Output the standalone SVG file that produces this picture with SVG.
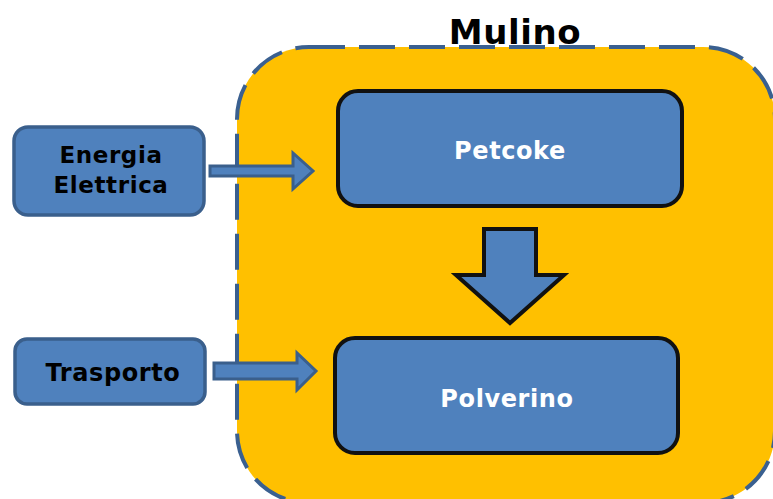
<svg xmlns="http://www.w3.org/2000/svg" width="773" height="499" viewBox="0 0 773 499">
  <style>
    .lbl { font-family: "DejaVu Sans", Verdana, sans-serif; font-weight: bold; text-anchor: middle; letter-spacing: 0.6px; }
    .side { fill: #4F81BD; stroke: #3A5F8C; stroke-width: 3.5; }
    .core { fill: #4F81BD; stroke: #111111; stroke-width: 4; }
    .flow { fill: #4F81BD; stroke: #3A5F8C; stroke-width: 3; }
  </style>
  <rect width="773" height="499" fill="#FFFFFF"/>

  <g id="mulino">
    <rect x="237" y="47" width="538" height="456" rx="72" fill="#FFC000" stroke="#3A6090" stroke-width="4" stroke-dasharray="36 14"/>
    <text class="lbl" x="515" y="44" font-size="34" fill="#000">Mulino</text>
  </g>

  <g id="petcoke">
    <rect class="core" x="338" y="91" width="344" height="115" rx="20"/>
    <text class="lbl" x="510" y="159" font-size="24" fill="#FFF">Petcoke</text>
  </g>

  <g id="polverino">
    <rect class="core" x="335" y="338" width="343" height="115" rx="20"/>
    <text class="lbl" x="507" y="407" font-size="24" fill="#FFF">Polverino</text>
  </g>

  <g id="energia">
    <rect class="side" x="14" y="127" width="190" height="88" rx="14"/>
    <text class="lbl" x="111" y="163" font-size="23" fill="#000">Energia</text>
    <text class="lbl" x="111" y="193" font-size="23" fill="#000">Elettrica</text>
  </g>

  <g id="trasporto">
    <rect class="side" x="15" y="339" width="190" height="65" rx="12"/>
    <text class="lbl" x="113" y="381" font-size="24" fill="#000">Trasporto</text>
  </g>

  <g id="connectors">
    <path class="flow" d="M210,166 H293 V153 L313,171 L293,189 V176 H210 Z"/>
    <path class="flow" d="M214,363 H297 V353 L316,371 L297,390 V379 H214 Z"/>
    <path class="core" stroke-width="3.5" d="M484,229 H536 V275 H564 L510,323 L456,275 H484 Z"/>
  </g>
</svg>
